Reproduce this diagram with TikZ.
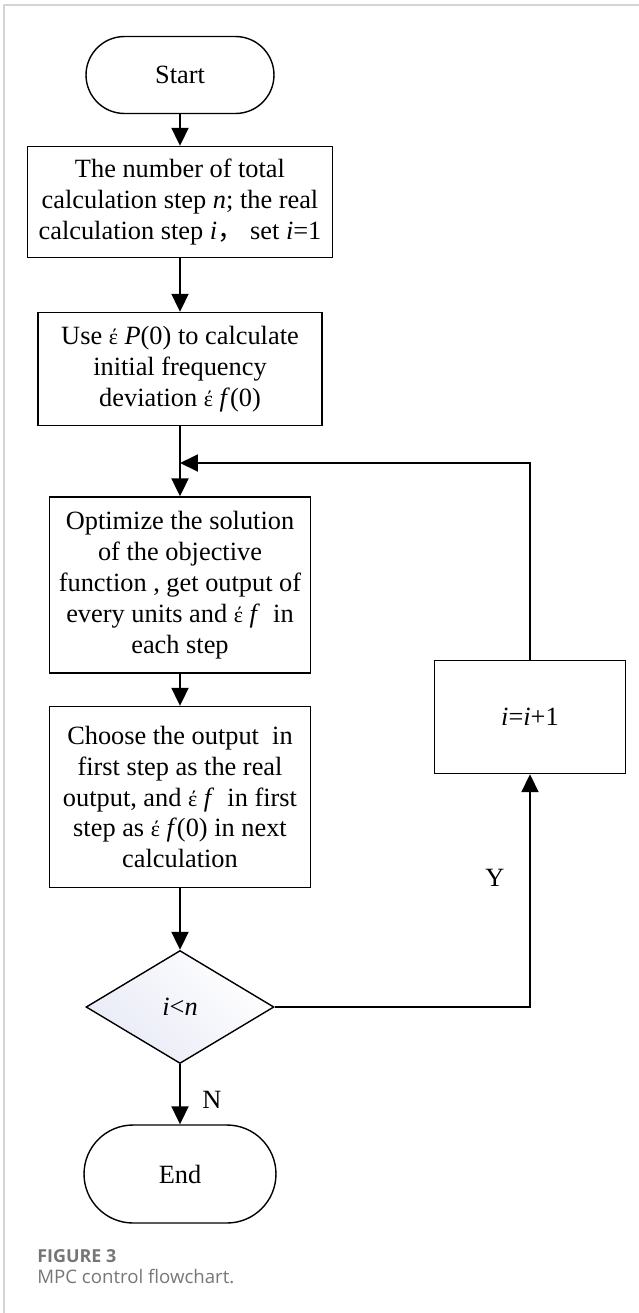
\documentclass[tikz,border=0pt]{standalone}
\usepackage{fontspec}
\usepackage{xcolor}
\usepackage{tikz}
\setmainfont{Liberation Serif}
\newfontfamily\cjk{Noto Sans CJK SC}
\newfontfamily\capfont{Open Sans}
\usetikzlibrary{arrows.meta, positioning, shapes.geometric}
\definecolor{framegray}{RGB}{212, 212, 212}
\definecolor{capgray}{RGB}{118, 118, 118}
\definecolor{decblue}{RGB}{232, 234, 246}
\newcommand{\dv}{{\fontsize{12.5}{14}\selectfont έ}\ }

\begin{document}
\begin{tikzpicture}[
  x=0.02cm, y=-0.02cm,
  flowbox/.style={draw, line width=0.8pt, align=center, inner sep=0pt,
    font=\fontsize{15}{17.6}\selectfont},
  termbox/.style={flowbox, rounded corners=0.77cm},
  decbox/.style={flowbox, diamond, left color=decblue, right color=white, shading angle=135},
  flowarrow/.style={-{Triangle[length=0.36cm, width=0.34cm]}, line width=1.1pt},
  lbl/.style={font=\fontsize{15}{17}\selectfont},
]
  \useasboundingbox (0,0) rectangle (639,1313);

  % Frame
  \draw[framegray, line width=1pt] (4,1313) -- (4,5) -- (639,5);

  % Nodes
  \node[termbox, minimum width=3.76cm, minimum height=1.54cm] (start) at (180,75) {Start};
  \node[flowbox, minimum width=6.1cm, minimum height=2.22cm] (steps) at (180,202) {The number of total\\calculation step \textit{n}; the real\\calculation step \textit{i}{\cjk ，}\ set \textit{i}=1};
  \node[flowbox, minimum width=5.68cm, minimum height=2.26cm] (init) at (180,369) {Use \dv\textit{P}(0) to calculate\\initial frequency\\deviation \dv\textit{f}(0)};
  \node[flowbox, minimum width=5.22cm, minimum height=3.52cm] (optim) at (180,585) {Optimize the solution\\of the objective\\function , get output of\\every units and \dv\textit{f} \ in\\each step};
  \node[flowbox, minimum width=5.22cm, minimum height=3.62cm] (choose) at (180,797) {Choose the output \ in\\first step as the real\\output, and \dv\textit{f} \ in first\\step as \dv\textit{f}(0) in next\\calculation};
  \node[decbox, minimum width=3.76cm, minimum height=2.26cm] (check) at (180,1007) {\textit{i}<\textit{n}};
  \node[flowbox, minimum width=3.82cm, minimum height=2.26cm] (incr) at (530,717) {\textit{i}=\textit{i}+1};
  \node[termbox, minimum width=3.84cm, minimum height=1.96cm, rounded corners=0.98cm] (stop) at (180,1174) {End};
  \coordinate (join) at (180,463);

  % Connectors
  \draw[flowarrow] (start) -- (steps);
  \draw[flowarrow] (steps) -- (init);
  \draw[flowarrow] (init) -- (optim);
  \draw[flowarrow] (optim) -- (choose);
  \draw[flowarrow] (choose) -- (check);
  \draw[flowarrow] (check.east) -- (incr.south |- check.east) -- (incr.south);
  \draw[flowarrow] (incr.north) -- (incr.north |- join) -- (join);
  \draw[flowarrow] (check.south) -- (stop.north);

  % Labels
  \node[lbl] (yes) at (495,878) {Y};
  \node[lbl] (no) at (212,1100) {N};

  % Caption
  \node[anchor=base west, inner sep=0pt, font=\capfont\fontsize{10.2}{12}\selectfont\bfseries, capgray] (fignum) at (37,1262) {FIGURE 3};
  \node[anchor=base west, inner sep=0pt, font=\capfont\fontsize{10.6}{12}\selectfont, capgray] (figcap) at (37,1283) {MPC control flowchart.};
\end{tikzpicture}
\end{document}
